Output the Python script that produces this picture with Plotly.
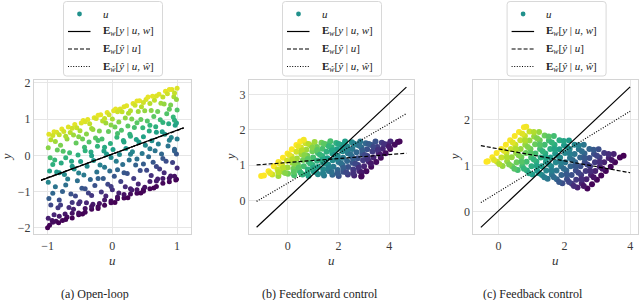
import plotly.graph_objects as go

# ---------------- Panel (a): open-loop ----------------
u_a = [
    -0.98, -0.95, -0.99, -0.96, -0.97, -0.99, -0.98, -0.95, -0.99, -0.97, -1.0, -0.93,
    -0.9, -0.86, -0.88, -0.85, -0.89, -0.86, -0.88, -0.84, -0.9, -0.87, -0.83,
    -0.78, -0.75, -0.8, -0.76, -0.79, -0.74, -0.77, -0.8, -0.73, -0.77,
    -0.68, -0.65, -0.7, -0.66, -0.63, -0.69, -0.64, -0.67, -0.7, -0.62,
    -0.58, -0.55, -0.6, -0.56, -0.53, -0.59, -0.54, -0.57, -0.6, -0.52,
    -0.48, -0.45, -0.5, -0.46, -0.43, -0.49, -0.44, -0.47, -0.5, -0.42, -0.46,
    -0.38, -0.35, -0.4, -0.36, -0.33, -0.39, -0.34, -0.37, -0.4, -0.32,
    -0.28, -0.25, -0.3, -0.26, -0.23, -0.29, -0.24, -0.27, -0.3, -0.22,
    -0.18, -0.15, -0.2, -0.16, -0.13, -0.19, -0.14, -0.17, -0.2, -0.12,
    -0.08, -0.05, -0.1, -0.06, -0.03, -0.09, -0.04, -0.07, -0.1, -0.02,
    0.02, 0.05, 0.0, 0.04, 0.07, 0.01, 0.06, 0.03, 0.0, 0.08, 0.04,
    0.12, 0.15, 0.1, 0.14, 0.17, 0.11, 0.16, 0.13, 0.1, 0.18,
    0.22, 0.25, 0.2, 0.24, 0.27, 0.21, 0.26, 0.23, 0.2, 0.28, 0.24,
    0.32, 0.35, 0.3, 0.34, 0.37, 0.31, 0.36, 0.33, 0.3, 0.38,
    0.42, 0.45, 0.4, 0.44, 0.47, 0.41, 0.46, 0.43, 0.4, 0.48, 0.44,
    0.52, 0.55, 0.5, 0.54, 0.57, 0.51, 0.56, 0.53, 0.5, 0.58,
    0.62, 0.65, 0.6, 0.64, 0.67, 0.61, 0.66, 0.63, 0.6, 0.68, 0.64,
    0.72, 0.75, 0.7, 0.74, 0.77, 0.71, 0.76, 0.73, 0.7, 0.78,
    0.82, 0.85, 0.8, 0.84, 0.87, 0.81, 0.86, 0.83, 0.8, 0.88,
    0.92, 0.95, 0.9, 0.94, 0.97, 0.91, 0.96, 0.93, 0.9, 0.98,
    1.0, 0.99, 1.0, 0.99, 1.0, 0.99, 1.0, 0.99,
    -0.92, -0.92, -0.92, -0.92, -0.82, -0.82, -0.82, -0.82,
    -0.72, -0.72, -0.72, -0.72, -0.62, -0.62, -0.62, -0.62,
    -0.52, -0.52, -0.52, -0.52, -0.42, -0.42, -0.42, -0.42,
    -0.32, -0.32, -0.32, -0.32, -0.22, -0.22, -0.22, -0.22,
    -0.12, -0.12, -0.12, -0.12, -0.02, -0.02, -0.02, -0.02,
    0.08, 0.08, 0.08, 0.08, 0.18, 0.18, 0.18, 0.18,
    0.28, 0.28, 0.28, 0.28, 0.38, 0.38, 0.38, 0.38,
    0.48, 0.48, 0.48, 0.48, 0.58, 0.58, 0.58, 0.58,
    0.68, 0.68, 0.68, 0.68, 0.78, 0.78, 0.78, 0.78,
    0.88, 0.88, 0.88, 0.88, 0.96, 0.96, 0.96, 0.96,
]
y_a = [
    0.58, 0.43, 0.21, -0.07, -0.43, -0.74, -1.19, -1.37, -1.74, -1.93, -2.0, -1.8,
    0.65, 0.64, 0.38, 0.15, -0.13, -0.46, -0.87, -1.45, -1.64, -1.82, -1.86,
    0.73, 0.66, 0.28, 0.11, -0.21, -0.53, -1.0, -1.37, -1.62, -1.8,
    0.78, 0.63, 0.45, 0.07, -0.16, -0.65, -1.07, -1.44, -1.7, -1.73,
    0.85, 0.76, 0.56, 0.34, 0.01, -0.38, -0.7, -1.12, -1.49, -1.64,
    0.89, 0.96, 0.68, 0.45, 0.22, -0.17, -0.54, -0.91, -1.28, -1.47, -1.62,
    0.99, 0.87, 0.59, 0.37, 0.09, -0.3, -0.67, -1.04, -1.31, -1.49,
    1.04, 1.02, 0.71, 0.48, 0.25, -0.14, -0.46, -0.83, -1.35, -1.47,
    1.12, 0.95, 0.67, 0.45, 0.12, -0.27, -0.64, -1.01, -1.33, -1.38,
    1.18, 1.12, 0.89, 0.66, 0.33, 0.04, -0.43, -0.8, -1.12, -1.26,
    1.23, 1.28, 1.0, 0.78, 0.5, 0.16, -0.16, -0.58, -0.95, -1.15, -1.3,
    1.28, 1.2, 0.92, 0.69, 0.41, 0.02, -0.25, -0.72, -1.04, -1.18,
    1.37, 1.16, 1.03, 0.81, 0.58, 0.19, -0.13, -0.5, -0.87, -1.07, -1.17,
    1.43, 1.38, 1.0, 0.77, 0.44, 0.1, -0.27, -0.64, -0.96, -1.05,
    1.51, 1.34, 1.21, 0.99, 0.76, 0.37, 0.05, -0.42, -0.79, -0.94, -1.04,
    1.54, 1.61, 1.23, 0.95, 0.67, 0.28, -0.04, -0.41, -0.88, -0.92,
    1.63, 1.52, 1.24, 1.07, 0.79, 0.4, 0.13, -0.19, -0.56, -0.71, -0.9,
    1.69, 1.44, 1.21, 0.98, 0.65, 0.31, 0.04, -0.38, -0.65, -0.77,
    1.77, 1.7, 1.42, 1.15, 0.87, 0.58, 0.26, -0.16, -0.48, -0.73,
    1.82, 1.62, 1.39, 1.06, 0.83, 0.49, 0.17, -0.2, -0.57, -0.68,
    1.85, 1.54, 1.25, 0.89, 0.45, 0.04, -0.35, -0.66,
    0.55, -0.25, -1.05, -1.85, 0.57, -0.48, -1.23, -1.68,
    0.53, -0.07, -0.82, -1.77, 0.75, -0.3, -1.3, -1.6,
    0.51, -0.49, -1.34, -1.59, 0.93, 0.13, -0.92, -1.57,
    0.74, -0.01, -1.11, -1.41, 1.11, 0.41, -0.64, -1.42,
    1.02, 0.22, -0.33, -1.23, 0.84, -0.06, -0.86, -1.31,
    1.2, 0.6, -0.4, -1.2, 1.34, 0.37, -0.48, -1.08,
    1.23, 0.53, 0.03, -0.92, 1.5, 0.9, -0.1, -0.95,
    1.46, 0.51, -0.24, -0.99, 1.43, 0.83, 0.18, -0.72,
    1.64, 0.64, -0.31, -0.86, 1.61, 0.91, -0.09, -0.64,
    1.82, 1.27, 0.42, -0.63, 1.72, 0.97, 0.12, -0.58,
]
w_a = [
    1.22, 1.05, 0.85, 0.55, 0.2, -0.1, -0.55, -0.75, -1.1, -1.3, -1.35, -1.2,
    1.23, 1.2, 0.95, 0.7, 0.45, 0.1, -0.3, -0.9, -1.05, -1.25, -1.32,
    1.24, 1.15, 0.8, 0.6, 0.3, -0.05, -0.5, -0.85, -1.15, -1.3,
    1.22, 1.05, 0.9, 0.5, 0.25, -0.2, -0.65, -1.0, -1.25, -1.33,
    1.23, 1.12, 0.95, 0.7, 0.35, 0.0, -0.35, -0.75, -1.1, -1.3,
    1.2, 1.25, 1.0, 0.75, 0.5, 0.15, -0.25, -0.6, -0.95, -1.2, -1.32,
    1.24, 1.1, 0.85, 0.6, 0.3, -0.05, -0.45, -0.8, -1.05, -1.28,
    1.22, 1.18, 0.9, 0.65, 0.4, 0.05, -0.3, -0.65, -1.15, -1.33,
    1.24, 1.05, 0.8, 0.55, 0.2, -0.15, -0.55, -0.9, -1.2, -1.3,
    1.23, 1.15, 0.95, 0.7, 0.35, 0.1, -0.4, -0.75, -1.05, -1.25,
    1.22, 1.25, 1.0, 0.75, 0.45, 0.15, -0.2, -0.6, -0.95, -1.2, -1.33,
    1.2, 1.1, 0.85, 0.6, 0.3, -0.05, -0.35, -0.8, -1.1, -1.3,
    1.23, 1.0, 0.9, 0.65, 0.4, 0.05, -0.3, -0.65, -1.0, -1.25, -1.33,
    1.22, 1.15, 0.8, 0.55, 0.2, -0.1, -0.5, -0.85, -1.15, -1.3,
    1.24, 1.05, 0.95, 0.7, 0.45, 0.1, -0.25, -0.7, -1.05, -1.25, -1.33,
    1.2, 1.25, 0.9, 0.6, 0.3, -0.05, -0.4, -0.75, -1.2, -1.3,
    1.23, 1.1, 0.85, 0.65, 0.35, 0.0, -0.3, -0.6, -0.95, -1.15, -1.32,
    1.22, 0.95, 0.75, 0.5, 0.15, -0.15, -0.45, -0.85, -1.1, -1.28,
    1.24, 1.15, 0.9, 0.6, 0.3, 0.05, -0.3, -0.7, -1.0, -1.3,
    1.22, 1.0, 0.8, 0.45, 0.2, -0.1, -0.45, -0.8, -1.15, -1.32,
    1.2, 0.9, 0.6, 0.25, -0.2, -0.6, -1.0, -1.3,
    1.15, 0.35, -0.45, -1.25, 1.1, 0.05, -0.7, -1.15,
    1.0, 0.4, -0.35, -1.3, 1.15, 0.1, -0.9, -1.2,
    0.85, -0.15, -1.0, -1.25, 1.2, 0.4, -0.65, -1.3,
    0.95, 0.2, -0.9, -1.2, 1.25, 0.55, -0.5, -1.28,
    1.1, 0.3, -0.25, -1.15, 0.85, -0.05, -0.85, -1.3,
    1.15, 0.55, -0.45, -1.25, 1.22, 0.25, -0.6, -1.2,
    1.05, 0.35, -0.15, -1.1, 1.25, 0.65, -0.35, -1.2,
    1.15, 0.2, -0.55, -1.3, 1.05, 0.45, -0.2, -1.1,
    1.2, 0.2, -0.75, -1.3, 1.1, 0.4, -0.6, -1.15,
    1.25, 0.7, -0.15, -1.2, 1.1, 0.35, -0.5, -1.2,
]
line_x_a = [-1.1, 1.1]
solid_a = [-0.69, 0.76]
dashed_a = [-0.68, 0.75]
dotted_a = [-0.69, 0.76]

# ---------------- Panel (b): feedforward control ----------------
u_b = [
    -0.94, -0.76, -0.55, -0.37, -0.19, -0.01, 0.16, 0.34, 0.49,
    -0.61, -0.4, -0.22, -0.03, 0.15, 0.34, 0.52, 0.7,
    -0.37, -0.19, -0.01, 0.18, 0.36, 0.54, 0.73, 0.91, 1.06,
    0.01, 0.22, 0.4, 0.6, 0.77, 0.97, 1.15, 1.33,
    0.25, 0.45, 0.63, 0.82, 1.0, 1.19, 1.37, 1.55, 1.68,
    0.58, 0.79, 0.98, 1.16, 1.36, 1.53, 1.73, 1.91,
    0.82, 1.01, 1.19, 1.39, 1.56, 1.76, 1.94, 2.12, 2.26,
    1.19, 1.4, 1.59, 1.77, 1.97, 2.16, 2.35, 2.53,
    1.43, 1.62, 1.8, 2.0, 2.18, 2.37, 2.55, 2.73, 2.86,
    1.76, 1.97, 2.16, 2.34, 2.53, 2.71, 2.91, 3.08,
    2.01, 2.19, 2.38, 2.56, 2.76, 2.94, 3.13, 3.31, 3.46,
    2.37, 2.58, 2.77, 2.97, 3.14, 3.34, 3.53, 3.71,
    2.62, 2.82, 3.01, 3.2, 3.38, 3.58, 3.75, 3.93, 4.05,
    2.91, 3.1, 3.29, 3.49, 3.67, 3.86, 4.04, 4.22, 4.34,
    -0.7, -0.31, 0.06, 0.42,
    -0.37, -0.19, 0.18, 0.55, 0.82,
    -0.1, 0.28, 0.66, 0.97,
    0.24, 0.42, 0.79, 1.16, 1.43,
    0.51, 0.89, 1.27, 1.62,
    0.77, 1.0, 1.36, 1.74, 2.01,
    1.12, 1.49, 1.86, 2.16,
    1.39, 1.61, 1.97, 2.35, 2.62,
    1.73, 2.1, 2.47, 2.83,
    1.97, 2.19, 2.58, 2.94, 3.2,
    2.31, 2.67, 3.04, 3.38,
    2.58, 2.8, 3.16, 3.55, 3.8,
    2.91, 3.28, 3.65, 3.99,
    -1.05, 0.63, 4.41, 2.9,
]
y_b = [
    0.71, 0.83, 0.97, 1.09, 1.21, 1.33, 1.45, 1.57, 1.67,
    0.74, 0.88, 1.0, 1.13, 1.25, 1.38, 1.5, 1.62,
    0.7, 0.82, 0.94, 1.07, 1.19, 1.31, 1.44, 1.56, 1.66,
    0.76, 0.9, 1.02, 1.15, 1.27, 1.4, 1.52, 1.64,
    0.72, 0.85, 0.97, 1.1, 1.22, 1.35, 1.47, 1.59, 1.68,
    0.74, 0.88, 1.01, 1.13, 1.26, 1.38, 1.51, 1.63,
    0.7, 0.83, 0.95, 1.08, 1.2, 1.33, 1.45, 1.57, 1.67,
    0.75, 0.89, 1.02, 1.14, 1.27, 1.4, 1.53, 1.65,
    0.71, 0.84, 0.96, 1.09, 1.21, 1.34, 1.46, 1.58, 1.67,
    0.73, 0.87, 1.0, 1.12, 1.25, 1.37, 1.5, 1.62,
    0.7, 0.82, 0.95, 1.07, 1.2, 1.32, 1.45, 1.57, 1.67,
    0.74, 0.88, 1.01, 1.14, 1.26, 1.39, 1.52, 1.64,
    0.71, 0.84, 0.97, 1.1, 1.22, 1.35, 1.47, 1.59, 1.67,
    0.7, 0.83, 0.96, 1.09, 1.21, 1.34, 1.46, 1.58, 1.66,
    0.78, 1.04, 1.29, 1.53,
    0.8, 0.92, 1.17, 1.42, 1.6,
    0.78, 1.04, 1.29, 1.5,
    0.81, 0.93, 1.18, 1.43, 1.61,
    0.79, 1.05, 1.3, 1.54,
    0.77, 0.92, 1.16, 1.42, 1.6,
    0.8, 1.05, 1.3, 1.5,
    0.78, 0.93, 1.17, 1.43, 1.61,
    0.81, 1.06, 1.31, 1.55,
    0.77, 0.92, 1.18, 1.42, 1.6,
    0.8, 1.04, 1.29, 1.52,
    0.78, 0.93, 1.17, 1.43, 1.6,
    0.8, 1.05, 1.3, 1.53,
    0.7, 1.72, 1.67, 0.68,
]
w_b = [
    1.34, 1.34, 1.34, 1.34, 1.34, 1.34, 1.34, 1.34, 1.34,
    1.15, 1.15, 1.15, 1.15, 1.15, 1.15, 1.15, 1.15,
    0.95, 0.95, 0.95, 0.95, 0.95, 0.95, 0.95, 0.95, 0.95,
    0.75, 0.75, 0.75, 0.75, 0.75, 0.75, 0.75, 0.75,
    0.55, 0.55, 0.55, 0.55, 0.55, 0.55, 0.55, 0.55, 0.55,
    0.35, 0.35, 0.35, 0.35, 0.35, 0.35, 0.35, 0.35,
    0.15, 0.15, 0.15, 0.15, 0.15, 0.15, 0.15, 0.15, 0.15,
    -0.05, -0.05, -0.05, -0.05, -0.05, -0.05, -0.05, -0.05,
    -0.25, -0.25, -0.25, -0.25, -0.25, -0.25, -0.25, -0.25, -0.25,
    -0.45, -0.45, -0.45, -0.45, -0.45, -0.45, -0.45, -0.45,
    -0.65, -0.65, -0.65, -0.65, -0.65, -0.65, -0.65, -0.65, -0.65,
    -0.85, -0.85, -0.85, -0.85, -0.85, -0.85, -0.85, -0.85,
    -1.05, -1.05, -1.05, -1.05, -1.05, -1.05, -1.05, -1.05, -1.05,
    -1.25, -1.25, -1.25, -1.25, -1.25, -1.25, -1.25, -1.25, -1.25,
    1.25, 1.25, 1.25, 1.25,
    1.05, 1.05, 1.05, 1.05, 1.05,
    0.85, 0.85, 0.85, 0.85,
    0.65, 0.65, 0.65, 0.65, 0.65,
    0.45, 0.45, 0.45, 0.45,
    0.25, 0.25, 0.25, 0.25, 0.25,
    0.05, 0.05, 0.05, 0.05,
    -0.15, -0.15, -0.15, -0.15, -0.15,
    -0.35, -0.35, -0.35, -0.35,
    -0.55, -0.55, -0.55, -0.55, -0.55,
    -0.75, -0.75, -0.75, -0.75,
    -0.95, -0.95, -0.95, -0.95, -0.95,
    -1.15, -1.15, -1.15, -1.15,
    1.4, 1.3, -1.28, -1.26,
]
line_x_b = [-1.23, 4.68]
solid_b = [-0.75, 3.21]
dashed_b = [1.01, 1.34]
dotted_b = [-0.02, 2.46]

# ---------------- Panel (c): feedback control ----------------
u_c = [
    -0.33, -0.19, -0.06, 0.08, 0.22, 0.35, 0.49, 0.62, 0.77,
    -0.05, 0.09, 0.24, 0.37, 0.51, 0.66, 0.8, 0.94,
    0.12, 0.26, 0.4, 0.53, 0.67, 0.81, 0.94, 1.08, 1.23,
    0.41, 0.55, 0.69, 0.83, 0.97, 1.11, 1.25, 1.4,
    0.58, 0.72, 0.85, 0.99, 1.12, 1.26, 1.4, 1.53, 1.68,
    0.86, 1.0, 1.15, 1.28, 1.42, 1.57, 1.7, 1.85,
    1.03, 1.17, 1.31, 1.44, 1.58, 1.72, 1.85, 1.99, 2.14,
    1.32, 1.45, 1.6, 1.74, 1.87, 2.02, 2.16, 2.31,
    1.49, 1.62, 1.76, 1.9, 2.03, 2.17, 2.31, 2.44, 2.59,
    1.77, 1.91, 2.06, 2.19, 2.33, 2.48, 2.61, 2.76,
    1.94, 2.08, 2.22, 2.35, 2.49, 2.62, 2.76, 2.9, 3.04,
    2.23, 2.36, 2.51, 2.65, 2.78, 2.93, 3.07, 3.21,
    2.4, 2.53, 2.67, 2.81, 2.94, 3.08, 3.21, 3.35, 3.5,
    2.7, 2.84, 2.99, 3.12, 3.26, 3.41, 3.54, 3.69,
    -0.14, 0.16, 0.43, 0.72,
    0.02, 0.25, 0.52, 0.8, 1.07,
    0.32, 0.61, 0.89, 1.17,
    0.48, 0.7, 0.98, 1.25, 1.52,
    0.77, 1.07, 1.34, 1.62,
    0.93, 1.16, 1.43, 1.7, 1.98,
    1.23, 1.52, 1.79, 2.08,
    1.39, 1.61, 1.89, 2.16, 2.43,
    1.68, 1.98, 2.25, 2.53,
    1.84, 2.07, 2.34, 2.61, 2.89,
    2.14, 2.43, 2.7, 2.99,
    2.29, 2.52, 2.79, 3.07, 3.34,
    2.59, 2.89, 3.16, 3.44,
    3.8, -0.37, 0.84,
]
y_c = [
    1.1, 1.19, 1.28, 1.37, 1.46, 1.56, 1.65, 1.74, 1.84,
    1.09, 1.18, 1.28, 1.37, 1.46, 1.56, 1.65, 1.75,
    1.0, 1.1, 1.19, 1.28, 1.37, 1.46, 1.55, 1.64, 1.74,
    0.99, 1.08, 1.19, 1.28, 1.37, 1.47, 1.56, 1.66,
    0.91, 1.0, 1.09, 1.18, 1.27, 1.37, 1.46, 1.55, 1.65,
    0.9, 0.99, 1.09, 1.18, 1.27, 1.37, 1.46, 1.56,
    0.81, 0.9, 0.99, 1.09, 1.18, 1.27, 1.36, 1.45, 1.55,
    0.8, 0.9, 0.99, 1.08, 1.18, 1.28, 1.37, 1.46,
    0.72, 0.81, 0.9, 0.99, 1.08, 1.17, 1.26, 1.36, 1.46,
    0.71, 0.8, 0.9, 0.99, 1.08, 1.18, 1.27, 1.37,
    0.62, 0.71, 0.8, 0.9, 0.99, 1.08, 1.17, 1.26, 1.36,
    0.61, 0.7, 0.8, 0.89, 0.99, 1.08, 1.18, 1.28,
    0.53, 0.62, 0.71, 0.8, 0.89, 0.98, 1.08, 1.17, 1.26,
    0.51, 0.6, 0.7, 0.79, 0.89, 0.98, 1.08, 1.18,
    1.13, 1.33, 1.51, 1.7,
    1.04, 1.19, 1.37, 1.55, 1.74,
    1.03, 1.23, 1.41, 1.6,
    0.94, 1.09, 1.27, 1.46, 1.64,
    0.94, 1.14, 1.32, 1.51,
    0.84, 1.0, 1.18, 1.36, 1.54,
    0.84, 1.04, 1.22, 1.41,
    0.75, 0.9, 1.08, 1.27, 1.45,
    0.75, 0.94, 1.13, 1.32,
    0.65, 0.81, 0.99, 1.17, 1.35,
    0.65, 0.85, 1.03, 1.22,
    0.56, 0.71, 0.89, 1.08, 1.26,
    0.56, 0.75, 0.94, 1.13,
    1.22, 1.09, 1.85,
]
w_c = [
    1.32, 1.32, 1.32, 1.32, 1.32, 1.32, 1.32, 1.32, 1.32,
    1.12, 1.12, 1.12, 1.12, 1.12, 1.12, 1.12, 1.12,
    0.92, 0.92, 0.92, 0.92, 0.92, 0.92, 0.92, 0.92, 0.92,
    0.72, 0.72, 0.72, 0.72, 0.72, 0.72, 0.72, 0.72,
    0.52, 0.52, 0.52, 0.52, 0.52, 0.52, 0.52, 0.52, 0.52,
    0.32, 0.32, 0.32, 0.32, 0.32, 0.32, 0.32, 0.32,
    0.12, 0.12, 0.12, 0.12, 0.12, 0.12, 0.12, 0.12, 0.12,
    -0.08, -0.08, -0.08, -0.08, -0.08, -0.08, -0.08, -0.08,
    -0.28, -0.28, -0.28, -0.28, -0.28, -0.28, -0.28, -0.28, -0.28,
    -0.48, -0.48, -0.48, -0.48, -0.48, -0.48, -0.48, -0.48,
    -0.68, -0.68, -0.68, -0.68, -0.68, -0.68, -0.68, -0.68, -0.68,
    -0.88, -0.88, -0.88, -0.88, -0.88, -0.88, -0.88, -0.88,
    -1.08, -1.08, -1.08, -1.08, -1.08, -1.08, -1.08, -1.08, -1.08,
    -1.3, -1.3, -1.3, -1.3, -1.3, -1.3, -1.3, -1.3,
    1.22, 1.22, 1.22, 1.22,
    1.02, 1.02, 1.02, 1.02, 1.02,
    0.82, 0.82, 0.82, 0.82,
    0.62, 0.62, 0.62, 0.62, 0.62,
    0.42, 0.42, 0.42, 0.42,
    0.22, 0.22, 0.22, 0.22, 0.22,
    0.02, 0.02, 0.02, 0.02,
    -0.18, -0.18, -0.18, -0.18, -0.18,
    -0.38, -0.38, -0.38, -0.38,
    -0.58, -0.58, -0.58, -0.58, -0.58,
    -0.78, -0.78, -0.78, -0.78,
    -0.98, -0.98, -0.98, -0.98, -0.98,
    -1.18, -1.18, -1.18, -1.18,
    -1.33, 1.34, 1.29,
]
line_x_c = [-0.54, 4.0]
solid_c = [-0.34, 2.72]
dashed_c = [1.44, 0.85]
dotted_c = [0.2, 2.19]

# ---------------- labels ----------------
legend_labels = [
    "<i>u</i>",
    "<b>E</b><sub><i>w</i></sub>[<i>y</i> | <i>u</i>, <i>w</i>]",
    "<b>E</b><sub><i>w</i></sub>[<i>ŷ</i> | <i>u</i>]",
    "<b>E</b><sub><i>ŵ</i></sub>[<i>ŷ</i> | <i>u</i>, <i>ŵ</i>]",
]
captions = ["(a) Open-loop", "(b) Feedforward control", "(c) Feedback control"]

x_ticks = [[-1, 0, 1], [0, 2, 4], [0, 2, 4]]
y_ticks = [[-2, -1, 0, 1, 2], [0, 1, 2, 3], [0, 1, 2]]
x_ranges = [[-1.21, 1.21], [-1.53, 4.98], [-0.77, 4.23]]
y_ranges = [[-2.18, 2.08], [-0.95, 3.41], [-0.49, 2.87]]

# ---------------- geometry (pixels) ----------------
W, H = 640, 300
boxes = [  # left, right, top, bottom in px
    (34, 190.7, 80, 234.3),
    (249, 414, 80, 234.3),
    (473.3, 637.7, 80, 234.3),
]
legend_cx = [113, 332, 556.6]
caption_cx = [94.5, 319.5, 532.5]
ylabel_x = [6, 230, 454]
legend_rows_py = [14, 31.5, 49, 66.5]

SERIF = "Liberation Serif"
panels = [
    (u_a, y_a, w_a, line_x_a, solid_a, dashed_a, dotted_a, 5.0),
    (u_b, y_b, w_b, line_x_b, solid_b, dashed_b, dotted_b, 6.0),
    (u_c, y_c, w_c, line_x_c, solid_c, dashed_c, dotted_c, 6.0),
]


def px(x):
    return x / W


def py(y):
    return 1 - y / H


fig = go.Figure()
layout = dict(
    width=W, height=H,
    margin=dict(l=0, r=0, t=0, b=0),
    paper_bgcolor="white", plot_bgcolor="white",
    font=dict(family=SERIF, size=12, color="#333333"),
    showlegend=False,
    annotations=[], shapes=[],
)

dash_styles = ["solid", "4px,2px", "1px,1.6px"]

for i, (u, y, w, lx, sol, das, dot, msize) in enumerate(panels):
    k = "" if i == 0 else str(i + 1)
    xa, ya = "x" + k, "y" + k
    fig.add_trace(go.Scatter(
        x=u, y=y, mode="markers", xaxis=xa, yaxis=ya,
        marker=dict(size=msize, color=w, colorscale="Viridis", cmin=-1.33, cmax=1.34,
                    line=dict(width=0)),
        hoverinfo="skip",
    ))
    for vals, dash in zip([sol, das, dot], dash_styles):
        fig.add_trace(go.Scatter(
            x=lx, y=vals, mode="lines", xaxis=xa, yaxis=ya, hoverinfo="skip",
            line=dict(color="black", width=1.2, dash=dash),
        ))
    l, r, t, b = boxes[i]
    axis_common = dict(showgrid=True, gridcolor="#e6e6e6", gridwidth=1,
                       showline=True, linecolor="#d4d4d4", linewidth=1, mirror=True,
                       zeroline=False, ticks="", automargin=False,
                       tickfont=dict(family=SERIF, size=12, color="#3a3a3a"))
    layout["xaxis" + k] = dict(axis_common, domain=[px(l), px(r)], range=x_ranges[i],
                               tickvals=x_ticks[i], anchor=ya)
    layout["yaxis" + k] = dict(axis_common, domain=[py(b), py(t)], range=y_ranges[i],
                               tickvals=y_ticks[i], anchor=xa)

    # ---- legend box (drawn by hand) ----
    cx = legend_cx[i]
    x0, x1, y0, y1, rr = cx - 49.5, cx + 49.5, 1.5, 76, 3
    path = (f"M {px(x0 + rr)},{py(y0)} L {px(x1 - rr)},{py(y0)} "
            f"Q {px(x1)},{py(y0)} {px(x1)},{py(y0 + rr)} L {px(x1)},{py(y1 - rr)} "
            f"Q {px(x1)},{py(y1)} {px(x1 - rr)},{py(y1)} L {px(x0 + rr)},{py(y1)} "
            f"Q {px(x0)},{py(y1)} {px(x0)},{py(y1 - rr)} L {px(x0)},{py(y0 + rr)} "
            f"Q {px(x0)},{py(y0)} {px(x0 + rr)},{py(y0)} Z")
    layout["shapes"].append(dict(type="path", path=path, xref="paper", yref="paper",
                                 line=dict(color="#d8d8d8", width=1), fillcolor="white"))
    mx, my = cx - 33.5, legend_rows_py[0]
    layout["shapes"].append(dict(type="circle", xref="paper", yref="paper",
                                 x0=px(mx - 2.4), x1=px(mx + 2.4), y0=py(my + 2.4), y1=py(my - 2.4),
                                 fillcolor="#21918c", line=dict(width=0)))
    for j, dash in enumerate(dash_styles):
        ry = legend_rows_py[j + 1]
        layout["shapes"].append(dict(type="line", xref="paper", yref="paper",
                                     x0=px(cx - 45), x1=px(cx - 22.5), y0=py(ry), y1=py(ry),
                                     line=dict(color="black", width=1.2, dash=dash)))
    for j, lab in enumerate(legend_labels):
        layout["annotations"].append(dict(
            x=px(cx - 12.5), y=py(legend_rows_py[j]), xref="paper", yref="paper",
            text=lab, showarrow=False, xanchor="left", yanchor="middle",
            font=dict(family=SERIF, size=11, color="#222222")))

    # ---- axis labels and caption ----
    layout["annotations"].append(dict(
        x=px((l + r) / 2), y=py(260), xref="paper", yref="paper", text="<i>u</i>",
        showarrow=False, font=dict(family=SERIF, size=13, color="#333333"),
        xanchor="center", yanchor="middle"))
    layout["annotations"].append(dict(
        x=px(ylabel_x[i]), y=py((t + b) / 2), xref="paper", yref="paper",
        text="<i>y</i>", textangle=-90, showarrow=False,
        font=dict(family=SERIF, size=13, color="#333333"),
        xanchor="center", yanchor="middle"))
    layout["annotations"].append(dict(
        x=px(caption_cx[i]), y=py(293.5), xref="paper", yref="paper",
        text=captions[i], showarrow=False,
        font=dict(family=SERIF, size=12, color="#222222"),
        xanchor="center", yanchor="middle"))

fig.update_layout(**layout)
fig.write_html(
    "out.html",
    config={"displayModeBar": False},
    post_script="document.body.style.margin='0';document.body.style.overflow='hidden';",
)
